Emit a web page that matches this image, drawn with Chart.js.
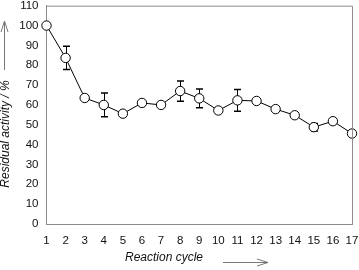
<!DOCTYPE html>
<html>
<head>
<meta charset="utf-8">
<script src="https://cdn.jsdelivr.net/npm/chart.js@4/dist/chart.umd.min.js"></script>
<style>
  html, body { margin: 0; padding: 0; background: #fff; }
  #wrap { width: 359px; height: 270px; position: relative; }
</style>
</head>
<body>
<div id="wrap"><canvas id="myChart" width="359" height="270"></canvas></div>
<script>
var cycles = [1, 2, 3, 4, 5, 6, 7, 8, 9, 10, 11, 12, 13, 14, 15, 16, 17];
var activity = [100, 83.7, 63.5, 60, 55.6, 61, 60, 67, 63.3, 57.2, 62.3, 62, 57.9, 54.8, 48.8, 51.8, 45.6];
var errors = [0, 5.9, 0, 6, 0, 0, 0, 5.1, 4.7, 0, 5.5, 0, 0, 0, 1.9, 1.1, 0];
var xTitle = 'Reaction cycle';
var yTitle = 'Residual activity / %';

var frameColor = '#8c8c8c';
var tickFont = { family: 'Liberation Sans, Arial, sans-serif', size: 11.5 };

// error bars, frame and axis titles with arrows
var extras = {
  id: 'extras',
  beforeDatasetsDraw: function (chart) {
    var ctx = chart.ctx, x = chart.scales.x, y = chart.scales.y;
    ctx.save();
    ctx.strokeStyle = '#000';
    for (var i = 0; i < cycles.length; i++) {
      if (!errors[i]) continue;
      var px = Math.round(x.getPixelForValue(cycles[i])) + 0.5;
      var top = y.getPixelForValue(activity[i] + errors[i]);
      var bot = y.getPixelForValue(activity[i] - errors[i]);
      ctx.lineWidth = 1;
      ctx.beginPath();
      ctx.moveTo(px, top); ctx.lineTo(px, bot);
      ctx.stroke();
      ctx.lineWidth = 1.5;
      ctx.beginPath();
      ctx.moveTo(px - 3.5, top); ctx.lineTo(px + 3.5, top);
      ctx.moveTo(px - 3.5, bot); ctx.lineTo(px + 3.5, bot);
      ctx.stroke();
    }
    ctx.restore();
  },
  afterDraw: function (chart) {
    var ctx = chart.ctx, a = chart.chartArea;
    ctx.save();
    ctx.strokeStyle = frameColor;
    ctx.lineWidth = 1;
    ctx.beginPath();
    ctx.moveTo(a.left, a.top + 0.5); ctx.lineTo(a.right + 0.5, a.top + 0.5);
    ctx.lineTo(a.right + 0.5, a.bottom);
    ctx.stroke();

    ctx.fillStyle = '#111';
    ctx.font = 'italic 12px Liberation Sans, Arial, sans-serif';
    ctx.textAlign = 'center';
    ctx.textBaseline = 'middle';
    ctx.fillText(xTitle, 164, 258);

    ctx.save();
    ctx.translate(6, 134);
    ctx.rotate(-Math.PI / 2);
    ctx.fillText(yTitle, 0, 0);
    ctx.restore();

    ctx.strokeStyle = '#777';
    ctx.beginPath();
    ctx.moveTo(223, 262.5); ctx.lineTo(268, 262.5);
    ctx.moveTo(268, 262.5); ctx.lineTo(257, 259);
    ctx.moveTo(268, 262.5); ctx.lineTo(257, 266);
    ctx.moveTo(4.5, 70); ctx.lineTo(4.5, 21);
    ctx.moveTo(4.5, 21); ctx.lineTo(1, 32);
    ctx.moveTo(4.5, 21); ctx.lineTo(8, 32);
    ctx.stroke();
    ctx.restore();
  }
};

var ctx = document.getElementById('myChart').getContext('2d');
var myChart = new Chart(ctx, {
  type: 'line',
  data: {
    datasets: [{
      data: cycles.map(function (c, i) { return { x: c, y: activity[i] }; }),
      borderColor: '#000',
      borderWidth: 1,
      pointRadius: 4.7,
      pointBackgroundColor: '#fff',
      pointBorderColor: '#000',
      pointBorderWidth: 1,
      tension: 0,
      clip: false
    }]
  },
  options: {
    responsive: false,
    animation: false,
    events: [],
    layout: { padding: { left: 0, right: 7, top: 5, bottom: 0 } },
    plugins: { legend: { display: false }, tooltip: { enabled: false } },
    scales: {
      x: {
        type: 'linear', min: 1, max: 17,
        afterFit: function (s) { s.height = 46; s.paddingLeft = 0; s.paddingRight = 0; },
        grid: { display: false, drawOnChartArea: false, drawTicks: true, tickLength: 3, tickColor: frameColor },
        border: { color: frameColor, width: 1 },
        ticks: { stepSize: 1, color: '#111', font: tickFont, padding: 7, maxRotation: 0, autoSkip: false }
      },
      y: {
        min: 0, max: 110,
        afterFit: function (s) { s.width = 46.5; s.paddingTop = 0; s.paddingBottom = 0; },
        grid: { display: false, drawOnChartArea: false, drawTicks: true, tickLength: 4, tickColor: frameColor },
        border: { color: frameColor, width: 1 },
        ticks: { stepSize: 10, color: '#111', font: tickFont, padding: 4 }
      }
    }
  },
  plugins: [extras]
});
</script>
</body>
</html>
